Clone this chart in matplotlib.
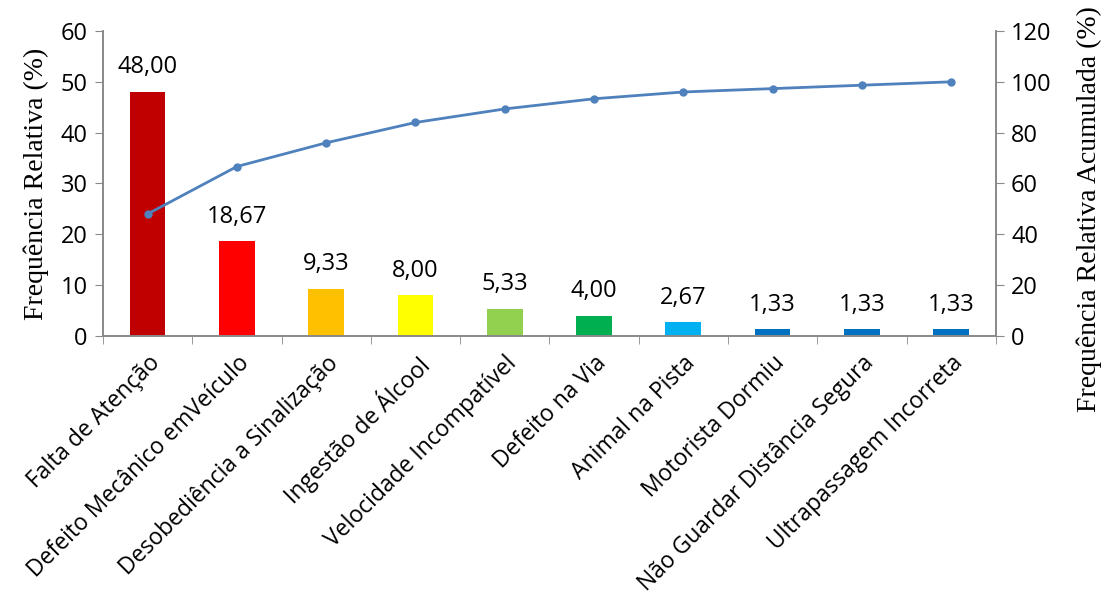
import numpy as np
import matplotlib
matplotlib.use('Agg')
import matplotlib.pyplot as plt

# dados do gráfico de Pareto
causas = ["Falta de Atenção", "Defeito Mecânico emVeículo", "Desobediência a Sinalização",
          "Ingestão de Álcool", "Velocidade Incompatível", "Defeito na Via", "Animal na Pista",
          "Motorista Dormiu", "Não Guardar Distância Segura", "Ultrapassagem Incorreta"]
freq_rel = [48.00, 18.67, 9.33, 8.00, 5.33, 4.00, 2.67, 1.33, 1.33, 1.33]
freq_acum = [48.00, 66.67, 76.00, 84.00, 89.33, 93.33, 96.00, 97.33, 98.67, 100.00]
cores = ["#C00000", "#FF0000", "#FFC000", "#FFFF00", "#92D050", "#00B050",
         "#00B0F0", "#0070C0", "#0070C0", "#0070C0"]

TICK_FONT = 'Open Sans'
LABEL_FONT = 'Liberation Serif'
FS = 17
spine_cor = '#898989'

fig = plt.figure(figsize=(11.04, 6.02), dpi=100)
ax = fig.add_axes([0.0933, 0.442, 0.8087, 0.5065])
x = np.arange(len(causas))

ax.bar(x, freq_rel, width=0.4, color=cores, zorder=2)
for xi, v in zip(x, freq_rel):
    ax.annotate(f"{v:.2f}".replace('.', ','), (xi, v), xytext=(0, 9), textcoords='offset points',
                ha='center', va='bottom', fontsize=FS, family=TICK_FONT)

ax.set_xlim(-0.5, len(causas) - 0.5)
ax.set_ylim(0, 60)
ax.set_yticks(range(0, 61, 10))
ax.set_xticks(x)
ax.set_xticklabels(causas, rotation=45, ha='right', rotation_mode='anchor', fontsize=16.5, family=TICK_FONT)
ax.set_xticks(np.arange(-0.5, len(causas), 1), minor=True)
ax.tick_params(axis='x', which='major', length=0, pad=11)
ax.tick_params(axis='x', which='minor', length=6, color=spine_cor, direction='out')
ax.tick_params(axis='y', length=6, color=spine_cor, labelsize=FS, pad=5)
for lab in ax.get_yticklabels():
    lab.set_family(TICK_FONT)
ax.set_ylabel("Frequência Relativa (%)", family=LABEL_FONT, fontsize=20, labelpad=8)

ax2 = ax.twinx()
ax2.plot(x, freq_acum, color='#4F81BD', lw=2, marker='o', ms=5, zorder=3)
ax2.set_ylim(0, 120)
ax2.set_yticks(range(0, 121, 20))
ax2.tick_params(axis='y', length=6, color=spine_cor, labelsize=FS, pad=5)
for lab in ax2.get_yticklabels():
    lab.set_family(TICK_FONT)
ax2.set_ylabel("Frequência Relativa Acumulada (%)", family=LABEL_FONT, fontsize=20)
ax2.yaxis.set_label_coords(1.09, 0.415)

for a in (ax, ax2):
    a.spines['top'].set_visible(False)
    for s in ('left', 'right', 'bottom'):
        a.spines[s].set_color(spine_cor)
        a.spines[s].set_linewidth(1.2)

fig.savefig('out.png', dpi=100)
